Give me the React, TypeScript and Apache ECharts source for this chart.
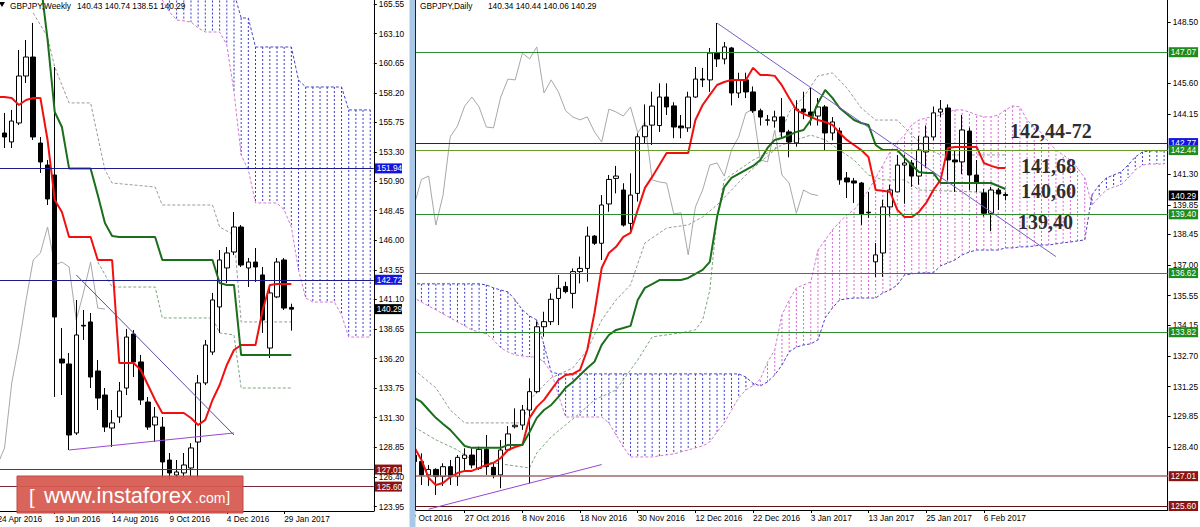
import React, { useEffect, useRef } from "react";
import * as echarts from "echarts";

const FONT = "'Liberation Sans', Arial, sans-serif";
const SERIF = "'Liberation Serif', 'Times New Roman', serif";
const FS = 8.3;
const MONTHS = ["Jan", "Feb", "Mar", "Apr", "May", "Jun", "Jul", "Aug", "Sep", "Oct", "Nov", "Dec"];

// ===================== WEEKLY (left panel) =====================
const weeklyFirstBar = "2016-04-24";
const weeklySlots = 53;
const weeklyOpen = [153.00, 154.87, 154.13, 155.70, 159.59, 161.16, 154.04, 152.22, 151.39, 136.16,
  135.75, 130.04, 138.95, 139.23, 135.17, 133.18, 130.45, 131.36, 133.76, 138.23,
  135.92, 132.60, 130.70, 130.53, 127.80, 126.56, 126.73, 127.14, 129.29, 134.18,
  136.74, 140.47, 143.70, 145.02, 147.09, 143.70, 144.19, 143.12, 137.07, 141.30,
  144.36, 140.43];
const weeklyHigh = [156.00, 156.53, 156.78, 161.74, 162.57, 163.98, 154.54, 152.64, 160.33, 138.73,
  136.66, 141.05, 140.22, 139.97, 136.08, 133.76, 131.94, 134.26, 138.65, 138.56,
  136.50, 133.02, 132.19, 131.36, 128.38, 127.80, 128.38, 129.20, 134.84, 137.74,
  141.63, 145.19, 145.43, 148.33, 147.25, 144.52, 145.35, 143.78, 142.29, 144.52,
  144.52, 140.74];
const weeklyLow = [152.50, 153.63, 153.63, 155.53, 159.01, 154.29, 151.56, 148.91, 133.02, 133.18,
  128.63, 129.87, 137.74, 133.76, 131.94, 130.12, 128.88, 130.87, 133.18, 134.67,
  132.36, 130.30, 129.29, 126.31, 126.15, 126.31, 126.31, 126.31, 126.31, 134.00,
  136.50, 138.32, 142.45, 144.77, 143.78, 142.12, 142.54, 138.32, 136.25, 141.20,
  140.22, 138.51];
const weeklyClose = [154.90, 154.54, 155.86, 159.59, 161.16, 154.54, 152.47, 149.41, 139.64, 135.83,
  129.87, 138.15, 138.89, 134.67, 132.93, 130.53, 130.87, 133.51, 137.98, 135.92,
  132.77, 130.53, 131.36, 127.64, 126.73, 126.81, 127.39, 128.80, 134.18, 137.32,
  141.05, 144.36, 144.94, 147.09, 143.94, 144.19, 143.78, 139.39, 141.63, 144.19,
  140.38, 140.29];
const weeklyTenkan = [157.85, 157.85, 157.77, 157.19, 157.60, 157.77, 157.77, 154.29, 149.33, 148.33,
  146.26, 146.26, 146.26, 146.26, 144.36, 144.36, 144.36, 135.83, 135.83, 135.83,
  135.25, 134.01, 132.77, 131.69, 131.69, 131.69, 131.69, 131.28, 130.70, 131.12,
  132.77, 134.01, 135.67, 136.91, 137.32, 137.32, 137.32, 140.22, 142.29, 142.37,
  142.37, 142.37];
const weeklyKijun = [null, null, null, null, null, 168.50, 167.50, 162.60, 156.61, 155.37,
  151.94, 151.94, 151.94, 151.94, 149.74, 147.42, 146.35, 146.26, 146.26, 146.26,
  146.26, 146.26, 146.26, 144.36, 144.36, 144.36, 144.36, 144.36, 144.36, 144.36,
  144.36, 142.45, 142.29, 142.29, 136.49, 136.49, 136.49, 136.49, 136.49, 136.49,
  136.49, 136.49];
const weeklySpanA = [null, null, null, null, null, null, null, null, null, null,
  null, null, null, null, null, null, null, null, null, null,
  null, null, null, 166.50, 166.50, 166.50, 166.50, 166.50, 166.50, 166.50,
  166.50, 166.50, 166.50, 166.50, 164.39, 164.39, 161.99, 161.99, 161.99, 161.99,
  161.99, 161.99, 159.26, 158.68, 158.68, 158.68, 158.68, 158.68, 158.68, 156.78,
  156.78, 156.78, 156.78];
const weeklySpanB = [null, null, null, null, null, null, null, null, null, null,
  null, null, null, null, null, null, null, null, null, null,
  null, null, null, 165.88, 164.89, 164.23, 164.15, 164.06, 163.56, 163.23,
  163.23, 163.23, 162.16, 158.27, 153.05, 151.81, 149.08, 149.08, 149.08, 149.08,
  148.50, 147.09, 143.53, 141.21, 140.88, 140.88, 140.88, 140.88, 139.81, 137.98,
  137.98, 137.98, 137.98];
const weeklyDash1 = [[5, 164.80], [7, 162.82], [8, 160.33], [10, 157.36], [13, 157.36], [15, 151.81], [16, 150.73],
  [22, 150.40], [23, 148.91], [30, 148.91], [31, 147.09], [33, 146.43], [34, 139.23], [41, 139.23]];
const weeklyDash2 = [[14, 144.19], [16, 142.12], [22, 142.12], [23, 139.56], [30, 139.56], [31, 138.32],
  [33, 138.15], [34, 133.76], [41, 133.76]];
const weeklyTrendUpper = [[11, 143.12], [33, 129.87]];
const weeklyTrendLower = [[10, 128.63], [33, 130.04]];
const weeklyTicks = [165.55, 163.10, 160.65, 158.20, 155.75, 153.30, 150.90, 148.45, 146.00, 143.55,
  141.10, 138.65, 136.20, 133.75, 131.30, 128.85, 126.40, 123.95];
const weeklyBlueLevels = [151.94, 142.72];
const weeklyMaroonLevels = [127.01, 125.60];
const weeklyLast = 140.29;
const weeklyHeader = ["GBPJPY,Weekly", "140.43 140.74 138.51 140.29"];

// ===================== DAILY (right panel) =====================
const dailyFirstBar = "2016-10-17";
const dailySlots = 106;
const dailyOpen = [128.30, 128.00, 127.70, 127.07, 127.33, 126.99, 127.46, 126.99, 127.85, 128.01,
  127.38, 128.28, 127.43, 127.07, 128.25, 129.35, 129.43, 130.14, 131.01, 134.08,
  134.32, 135.42, 135.98, 135.66, 136.69, 136.84, 138.37, 138.03, 139.89, 141.10,
  140.55, 138.97, 140.39, 143.07, 143.62, 143.60, 144.95, 144.53, 143.58, 143.49,
  144.95, 145.80, 145.76, 147.03, 146.75, 147.27, 145.14, 145.76, 145.19, 144.30,
  143.85, 143.82, 144.01, 143.30, 142.78, 144.38, 144.24, 144.05, 144.48, 143.25,
  143.34, 141.12, 140.98, 140.88, 139.50, 137.15, 137.57, 139.75, 140.46, 141.73,
  141.83, 141.21, 142.35, 143.06, 144.24, 144.43, 141.97, 141.88, 143.34, 141.26,
  140.41, 139.45, 140.55, 140.34];
const dailyHigh = [128.80, 128.40, 128.09, 127.54, 127.38, 127.62, 127.78, 128.01, 128.33, 128.33,
  128.41, 128.96, 127.62, 128.72, 129.38, 130.22, 130.38, 131.64, 134.32, 134.79,
  135.66, 136.53, 136.21, 136.84, 137.40, 138.82, 138.42, 140.31, 141.26, 141.69,
  140.87, 141.34, 143.23, 144.60, 145.20, 145.60, 145.60, 144.70, 144.10, 145.20,
  146.37, 146.33, 147.27, 148.45, 147.55, 147.32, 146.10, 146.10, 145.45, 144.40,
  144.10, 144.30, 144.90, 143.40, 144.80, 145.20, 145.38, 144.90, 144.57, 144.00,
  143.50, 141.40, 141.12, 140.93, 140.46, 138.04, 140.08, 140.80, 142.20, 142.20,
  141.97, 143.10, 143.60, 144.50, 144.81, 144.60, 142.44, 144.10, 143.50, 141.97,
  140.60, 140.70, 140.65, 140.44];
const dailyLow = [127.60, 127.40, 126.59, 126.55, 126.12, 126.55, 126.59, 126.55, 127.22, 127.38,
  127.30, 127.07, 126.91, 126.44, 128.17, 129.27, 129.20, 126.67, 130.93, 133.61,
  134.16, 134.16, 135.66, 134.95, 136.13, 136.21, 137.95, 137.24, 139.52, 140.39,
  138.82, 138.50, 140.00, 142.76, 142.68, 143.30, 144.10, 143.00, 143.00, 143.30,
  144.91, 145.42, 145.19, 146.37, 146.50, 144.55, 144.90, 144.90, 144.20, 143.60,
  143.60, 143.50, 143.00, 142.10, 142.60, 143.90, 143.60, 143.60, 142.44, 142.90,
  140.80, 140.17, 139.94, 138.90, 139.23, 136.44, 136.44, 139.30, 140.46, 139.90,
  140.70, 140.80, 141.60, 142.90, 144.00, 141.00, 140.46, 141.30, 140.55, 140.46,
  139.30, 138.60, 139.61, 140.06];
const dailyClose = [128.00, 127.70, 127.07, 127.33, 126.99, 127.46, 126.99, 127.90, 128.01, 127.54,
  128.28, 127.46, 127.07, 128.25, 129.01, 129.42, 130.14, 131.01, 134.08, 134.32,
  135.38, 135.90, 135.74, 136.69, 136.84, 138.37, 138.03, 139.84, 141.05, 141.21,
  138.89, 140.31, 143.07, 143.58, 144.52, 144.95, 144.48, 143.53, 143.49, 144.95,
  145.80, 145.76, 147.03, 146.75, 147.32, 145.14, 145.76, 145.19, 144.30, 144.00,
  143.87, 144.01, 143.30, 142.82, 144.38, 144.24, 144.05, 144.48, 143.25, 143.77,
  141.03, 140.93, 140.88, 139.42, 139.47, 137.48, 139.75, 140.55, 141.73, 141.83,
  141.21, 142.44, 143.06, 144.20, 144.38, 141.97, 141.88, 143.39, 141.26, 140.88,
  139.45, 140.55, 140.36, 140.29];
const dailyTenkan = [128.72, 128.39, 127.78, 126.93, 126.59, 126.69, 126.97, 127.16, 127.26, 127.26,
  127.40, 127.54, 127.64, 127.87, 128.25, 128.39, 128.49, 129.77, 130.29, 130.62,
  131.09, 131.56, 131.80, 131.85, 132.04, 132.98, 134.73, 136.86, 137.57, 137.86,
  138.33, 138.52, 139.61, 140.65, 141.17, 141.73, 142.30, 142.30, 142.30, 142.30,
  143.86, 144.57, 145.05, 145.52, 145.66, 145.76, 145.76, 145.76, 146.33, 145.99,
  145.99, 145.95, 145.50, 144.90, 144.34, 144.15, 144.01, 143.86, 143.77, 143.63,
  143.25, 142.92, 142.68, 142.44, 142.11, 140.55, 140.51, 140.46, 139.61, 139.27,
  139.27, 139.51, 139.94, 140.55, 141.03, 142.54, 142.59, 142.59, 142.59, 142.59,
  141.83, 141.69, 141.59, 141.59];
const dailyKijun = [130.81, 130.71, 130.52, 130.14, 129.77, 129.48, 129.20, 128.82, 128.44, 128.35,
  128.35, 128.35, 128.35, 128.35, 128.49, 128.49, 128.49, 129.10, 129.77, 130.14,
  130.38, 130.76, 131.19, 131.47, 131.80, 132.13, 132.42, 133.22, 133.69, 133.93,
  134.02, 134.12, 135.35, 135.92, 136.10, 136.29, 136.29, 136.29, 136.29, 136.39,
  136.58, 136.77, 137.15, 139.27, 140.69, 141.12, 141.31, 141.50, 141.69, 141.97,
  142.54, 142.92, 143.01, 143.15, 143.30, 143.39, 143.86, 144.67, 145.28, 144.91,
  144.43, 144.15, 143.86, 143.72, 143.63, 142.68, 142.44, 142.44, 142.44, 142.07,
  141.73, 141.40, 141.36, 141.36, 140.88, 140.88, 140.88, 140.88, 140.88, 140.88,
  140.88, 140.88, 140.74, 140.60];
const dailySpanA = [136.11, 136.11, 136.11, 136.11, 136.11, 136.11, 136.11, 136.11, 136.11, 136.11,
  136.11, 136.06, 135.92, 135.82, 135.73, 135.35, 134.88, 134.59, 134.40, 133.22,
  131.94, 131.85, 131.85, 131.85, 131.85, 131.85, 131.85, 131.85, 131.85, 131.85,
  131.85, 131.85, 131.85, 131.85, 131.85, 131.85, 131.85, 131.85, 131.85, 131.85,
  131.85, 131.85, 131.85, 131.85, 131.85, 131.85, 131.85, 131.70, 131.40, 131.28,
  131.47, 131.80, 132.27, 132.89, 133.12, 133.22, 133.27, 133.46, 134.50, 134.97,
  135.35, 135.40, 135.44, 135.44, 135.44, 135.44, 135.68, 135.82, 136.06, 136.53,
  136.58, 136.63, 136.63, 136.63, 136.96, 137.10, 137.24, 137.48, 137.62, 137.71,
  137.71, 137.71, 137.71, 137.81, 137.81, 137.86, 137.86, 137.90, 137.95, 137.95,
  138.00, 138.05, 138.09, 138.14, 138.19, 140.32, 140.79, 141.12, 141.26, 141.40,
  141.73, 142.11, 142.35, 142.40, 142.40, 142.40];
const dailySpanB = [135.44, 135.44, 135.25, 135.06, 134.88, 134.69, 134.50, 134.31, 134.12, 133.93,
  133.83, 133.74, 133.46, 133.08, 132.89, 132.75, 132.70, 132.65, 132.65, 132.41,
  131.94, 130.85, 129.81, 129.81, 129.81, 129.81, 129.81, 129.81, 129.53, 128.96,
  128.39, 127.92, 127.92, 127.92, 127.92, 127.97, 128.02, 128.06, 128.16, 128.25,
  128.35, 128.44, 128.63, 129.10, 129.53, 130.14, 130.71, 131.09, 131.30, 131.60,
  132.41, 132.98, 134.64, 135.35, 135.92, 136.06, 136.20, 137.71, 138.19, 138.66,
  139.04, 139.37, 139.61, 140.08, 140.55, 141.12, 141.73, 142.35, 142.82, 143.15,
  143.63, 143.86, 143.96, 144.01, 144.10, 144.24, 144.34, 144.34, 144.24, 144.10,
  144.01, 144.01, 144.10, 144.34, 144.53, 144.48, 143.86, 143.53, 143.25, 142.82,
  142.44, 142.21, 141.97, 141.59, 141.12, 139.84, 140.22, 140.55, 140.69, 140.79,
  141.12, 141.50, 141.73, 141.78, 141.78, 141.78];
const dailyDash1 = [[1, 132.04], [4, 131.19], [6, 130.14], [8, 129.53], [16, 129.53], [17, 130.62], [20, 131.66],
  [23, 132.13], [25, 132.98], [27, 134.40], [29, 135.35], [31, 136.06], [33, 138.05], [36, 138.75], [39, 138.90],
  [41, 139.28], [43, 139.84], [45, 140.55], [47, 141.26], [49, 141.88], [51, 142.44], [53, 144.24], [55, 144.95],
  [57, 145.95], [59, 146.09], [61, 145.38], [63, 144.43], [65, 143.86], [68, 143.86], [70, 143.15], [72, 142.54],
  [74, 142.21], [83, 142.21]];
const dailyDash2 = [[1, 129.34], [4, 128.73], [7, 128.25], [9, 127.78], [14, 127.54], [17, 127.40], [18, 128.11],
  [20, 128.87], [24, 130.00], [26, 130.62], [29, 131.09], [32, 132.51], [34, 133.60], [38, 133.79], [40, 133.93],
  [41, 134.40], [42, 135.82], [43, 139.28], [44, 141.03], [46, 141.50], [48, 141.97], [50, 142.30], [52, 142.68],
  [54, 142.92], [56, 143.15], [58, 142.92], [60, 142.44], [62, 141.97], [64, 141.26], [66, 141.03], [69, 141.03],
  [71, 140.55], [83, 140.41]];
const dailyTrendDown = [[43, 148.45], [90, 137.40]];
const dailyTrendUp = [[3, 125.45], [27, 127.56]];
const dailyTicks = [148.50, 145.60, 144.15, 141.30, 139.85, 138.45, 137.00, 135.55, 134.15, 132.70,
  131.25, 129.85, 128.40];
const dailyGreenLevels = [147.07, 142.44, 139.40, 136.62, 133.82];
const dailyBlueLevels = [142.77];
const dailyMaroonLevels = [127.01, 125.60];
const dailyLast = 140.29;
const dailyHeader = ["GBPJPY,Daily", "140.34 140.44 140.06 140.29"];
const dailyNotes = ["142,44-72", "141,68", "140,60", "139,40"];

// ===================== helpers =====================
const fmtDate = (d: Date) => `${d.getUTCDate()} ${MONTHS[d.getUTCMonth()]} ${d.getUTCFullYear()}`;
const DAY = 86400000;

function weeklyCategories() {
  const start = Date.parse(weeklyFirstBar + "T00:00:00Z");
  const out: string[] = [];
  for (let i = 0; i < weeklySlots; i++) out.push(i < weeklyClose.length ? fmtDate(new Date(start + i * 7 * DAY)) : "");
  return out;
}
function dailyCategories() {
  const out: string[] = [];
  let t = Date.parse(dailyFirstBar + "T00:00:00Z");
  while (out.length < dailyClose.length) {
    const d = new Date(t);
    const wd = d.getUTCDay();
    if (wd !== 0 && wd !== 6) out.push(fmtDate(d));
    t += DAY;
  }
  while (out.length < dailySlots) out.push("");
  return out;
}
function candles(o: number[], h: number[], l: number[], c: number[]) {
  return o.map((v, i) => [v, c[i], l[i], h[i]]);
}
function cloudData(a: (number | null)[], b: (number | null)[]) {
  const out: number[][] = [];
  for (let i = 0; i < a.length; i++) {
    if (a[i] != null && b[i] != null) out.push([i, a[i] as number, b[i] as number]);
  }
  return out;
}
const chikou = (close: number[]) => close.slice(26).map((c, i) => [i, c]);

const BLUE_HATCH = "#3838cc";
const PINK_HATCH = "#d466d4";
const hatchRender = (params: any, api: any) => {
  const i = api.value(0);
  const a = api.value(1);
  const b = api.value(2);
  const p1 = api.coord([i, a]);
  const p2 = api.coord([i, b]);
  return {
    type: "line",
    shape: { x1: p1[0], y1: p1[1], x2: p2[0], y2: p2[1] },
    style: { stroke: a >= b ? BLUE_HATCH : PINK_HATCH, lineWidth: 1, lineDash: [2, 2], fill: null },
  };
};

const levelItem = (v: number, line: string, box: string, lineWidth = 1) => ({
  yAxis: v,
  lineStyle: { color: line, width: lineWidth, type: "solid" },
  label: {
    show: true, position: "end", distance: 1, formatter: v.toFixed(2), color: "#fff",
    backgroundColor: box, padding: [1, 2, 0, 2], fontSize: FS, fontFamily: FONT, lineHeight: 9,
  },
});
const trendItem = (pts: number[][], color: string) => [
  { coord: pts[0], lineStyle: { color, width: 1, type: "solid" }, label: { show: false } },
  { coord: pts[1] },
];

function panelSeries(ax: number, d: any) {
  const base = { xAxisIndex: ax, yAxisIndex: ax, silent: true, animation: false };
  return [
    { ...base, type: "custom", name: "cloud" + ax, renderItem: hatchRender, data: cloudData(d.spanA, d.spanB),
      encode: { x: 0, y: [1, 2] }, clip: true, z: 1 },
    { ...base, type: "line", data: d.spanA, symbol: "none", lineStyle: { color: "#4646c8", width: 1, type: [3, 2] }, z: 2 },
    { ...base, type: "line", data: d.spanB, symbol: "none", lineStyle: { color: "#d27ad2", width: 1, type: [3, 2] }, z: 2 },
    { ...base, type: "line", data: d.dash1, symbol: "none", connectNulls: true, lineStyle: { color: "#9a9a9a", width: 1, type: [3, 2] }, z: 2 },
    { ...base, type: "line", data: d.dash2, symbol: "none", connectNulls: true, lineStyle: { color: "#7fa57f", width: 1, type: [3, 2] }, z: 2 },
    { ...base, type: "line", data: chikou(d.close), symbol: "none", lineStyle: { color: "#a8a8a8", width: 1 }, z: 2 },
    { ...base, type: "candlestick", data: candles(d.open, d.high, d.low, d.close), barWidth: 5,
      itemStyle: { color: "#ffffff", color0: "#000000", borderColor: "#000000", borderColor0: "#000000", borderWidth: 1 }, z: 3 },
    { ...base, type: "line", data: d.tenkan, symbol: "none", lineStyle: { color: "#f01010", width: 2 }, z: 4 },
    { ...base, type: "line", data: d.kijun, symbol: "none", lineStyle: { color: "#1b6e1b", width: 2 }, z: 4 },
    { ...base, type: "line", data: [], symbol: "none", z: d.levelZ,
      markLine: { silent: true, symbol: ["none", "none"], animation: false, data: d.levels } },
  ];
}

const axisFont = { fontSize: FS, fontFamily: FONT, color: "#000" };

function buildOption() {
  const wCats = weeklyCategories();
  const dCats = dailyCategories();
  const wLevels = [
    ...weeklyBlueLevels.map((v) => levelItem(v, "#1c1c8c", "#1414e0")),
    ...weeklyMaroonLevels.map((v) => levelItem(v, "#7a2a3a", "#8a1414")),
    levelItem(weeklyLast, "rgba(0,0,0,0)", "#000000"),
    trendItem(weeklyTrendUpper, "#5a4aa8"),
    trendItem(weeklyTrendLower, "#9a48d0"),
  ];
  const dLevels = [
    ...dailyBlueLevels.map((v) => levelItem(v, "#1c1c8c", "#1414e0")),
    ...dailyGreenLevels.map((v, i) => levelItem(v, i === 1 ? "#6a9a2a" : "#2e8a2e", "#1e8c1e")),
    levelItem(dailyMaroonLevels[0], "#a06a6a", "#8a1414", 1.5),
    levelItem(dailyMaroonLevels[1], "#5a1414", "#8a1414"),
    levelItem(dailyLast, "rgba(0,0,0,0)", "#000000"),
    trendItem(dailyTrendDown, "#7a5ac8"),
    trendItem(dailyTrendUp, "#9a44d4"),
  ];

  const xAxisCommon = (gridIndex: number, data: string[], bars: number) => ({
    type: "category", gridIndex, data, boundaryGap: true,
    axisLine: { show: true, lineStyle: { color: "#000", width: 1 } },
    axisTick: { show: true, alignWithLabel: true, length: 3, lineStyle: { color: "#000" },
      interval: (idx: number) => idx % 8 === 0 && idx < bars },
    axisLabel: { ...axisFont, align: "left", margin: 4, interval: (idx: number) => idx % 8 === 0 && idx < bars },
    splitLine: { show: false },
  });
  const yAxisCommon = (gridIndex: number, min: number, max: number, ticks: number[], z: number) => ({
    type: "value", gridIndex, position: "right", min, max, z,
    axisLine: { show: true, lineStyle: { color: "#000", width: 1 } },
    axisTick: { show: true, length: 3, customValues: ticks, lineStyle: { color: "#000" } },
    axisLabel: { ...axisFont, margin: 5, customValues: ticks, formatter: (v: number) => v.toFixed(2) },
    splitLine: { show: false },
  });

  const headerText = (x: number, text: string) => ({
    type: "text", x, y: 5.5, z: 100,
    style: { text, fill: "#000", fontSize: FS, fontFamily: FONT, textAlign: "left", textVerticalAlign: "middle" },
  });
  const noteText = (x: number, y: number, text: string) => ({
    type: "text", x, y, z: 100,
    style: { text, fill: "#2e2e2e", fontSize: 20, fontWeight: "bold", fontFamily: SERIF, textAlign: "left", textVerticalAlign: "middle" },
  });
  const wmText = (x: number, y: number, text: string, size: number) => ({
    type: "text", x, y, z: 101,
    style: { text, fill: "#ffffff", fontSize: size, fontFamily: FONT, textAlign: "left", textVerticalAlign: "middle" },
  });

  return {
    animation: false,
    backgroundColor: "#ffffff",
    textStyle: { fontFamily: FONT },
    grid: [
      { left: -6.2, top: 0, width: 380, height: 511, containLabel: false, outerBoundsMode: "none", show: false },
      { left: 403.4, top: 0, width: 764.3, height: 510, containLabel: false, outerBoundsMode: "none", show: false },
    ],
    xAxis: [xAxisCommon(0, wCats, weeklyClose.length), xAxisCommon(1, dCats, dailyClose.length)],
    yAxis: [
      yAxisCommon(0, 123.58, 165.88, weeklyTicks, 60),
      yAxisCommon(1, 125.41, 149.54, dailyTicks, 0),
    ],
    series: [
      ...panelSeries(0, {
        open: weeklyOpen, high: weeklyHigh, low: weeklyLow, close: weeklyClose,
        tenkan: weeklyTenkan, kijun: weeklyKijun, spanA: weeklySpanA, spanB: weeklySpanB,
        dash1: weeklyDash1, dash2: weeklyDash2, levels: wLevels, levelZ: 60,
      }),
      ...panelSeries(1, {
        open: dailyOpen, high: dailyHigh, low: dailyLow, close: dailyClose,
        tenkan: dailyTenkan, kijun: dailyKijun, spanA: dailySpanA, spanB: dailySpanB,
        dash1: dailyDash1, dash2: dailyDash2, levels: dLevels, levelZ: 5,
      }),
    ],
    graphic: [
      { type: "rect", z: 50, shape: { x: 402, y: 0, width: 8, height: 527 }, style: { fill: "#ffffff" } },
      { type: "rect", z: 51, shape: { x: 409.5, y: 0, width: 6, height: 527 }, style: { fill: "#a9c7e6" } },
      { type: "line", z: 52, shape: { x1: 415.5, y1: 0, x2: 415.5, y2: 510 }, style: { stroke: "#222", lineWidth: 1 } },
      { type: "polygon", z: 100, shape: { points: [[-1, 2], [5, 2], [2, 7]] }, style: { fill: "#000" } },
      headerText(10, weeklyHeader[0]),
      headerText(77, weeklyHeader[1]),
      headerText(420, dailyHeader[0]),
      headerText(488, dailyHeader[1]),
      noteText(1010, 131, dailyNotes[0]),
      noteText(1021, 166, dailyNotes[1]),
      noteText(1021, 191, dailyNotes[2]),
      noteText(1018, 222, dailyNotes[3]),
      { type: "rect", z: 100, shape: { x: 17, y: 476, width: 226, height: 37 },
        style: { fill: "rgba(214,88,80,0.93)", stroke: "#c04a44", lineWidth: 1 } },
      wmText(29, 497, "[", 20),
      wmText(44, 495, "www.instaforex", 22),
      wmText(195, 498, ".com", 14),
      wmText(226, 496, "]", 15),
    ],
  };
}

export default function App() {
  const ref = useRef<HTMLDivElement>(null);
  useEffect(() => {
    if (!ref.current) return;
    const chart = echarts.init(ref.current, undefined, { renderer: "svg" });
    chart.setOption(buildOption() as any);
    return () => chart.dispose();
  }, []);
  return (
    <div
      ref={ref}
      style={{ position: "absolute", left: 0, top: 0, width: 1200, height: 527, background: "#fff", overflow: "hidden" }}
    />
  );
}
